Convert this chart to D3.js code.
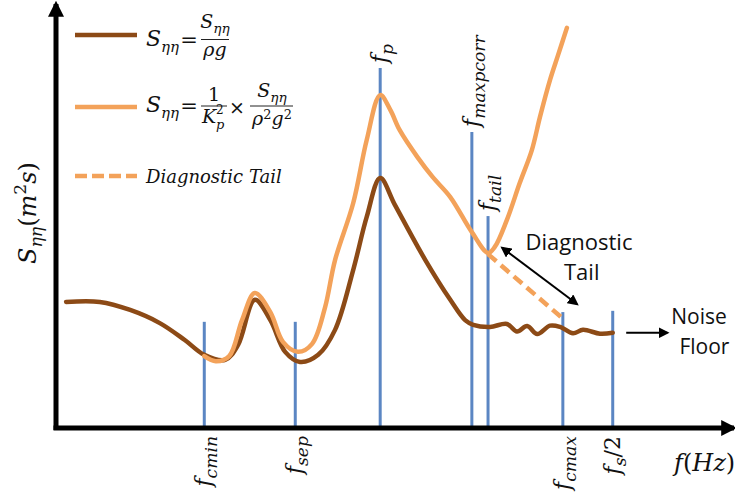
<!DOCTYPE html>
<html>
<head>
<meta charset="utf-8">
<script src="https://cdn.jsdelivr.net/npm/d3@7/dist/d3.min.js"></script>
<style>
  html, body { margin: 0; padding: 0; background: #fff; }
  svg { display: block; }
  .math { font-family: "DejaVu Serif", "Liberation Serif", serif; fill: #111; }
  .sans { font-family: "Open Sans", "Liberation Sans", sans-serif; fill: #111; }
</style>
</head>
<body>
<svg id="chart" width="735" height="501"></svg>
<script>
// ---- data (frequency and spectral level in normalised schematic units, 0-100) ----

// characteristic frequencies: name, position, height of the marker line
const markNames   = ["cmin", "sep", "p", "maxpcorr", "tail", "cmax", "s/2"];
const markFreq    = [22.0, 35.5, 48.1, 61.7, 64.1, 75.2, 82.6];
const markTop     = [25.1, 25.1, 85.1, 70.0, 50.1, 27.4, 27.7];
const markSide    = ["below", "below", "above", "above", "above", "below", "below"];

// pressure-derived spectrum, S = S_pp / (rho g)
const darkFreq = [1.5, 6.5, 11.0, 15.4, 19.1, 22.0, 25.1, 27.0, 29.5, 31.8, 34.0, 36.2, 38.9, 41.4, 44.1, 46.1, 48.1,
                  50.3, 54.8, 58.5, 60.7, 61.9, 64.4, 66.9, 68.4, 69.9, 71.4, 73.3, 74.8, 76.7, 78.2, 80.7, 82.6];
const darkLevel = [29.8, 29.8, 27.9, 24.8, 20.8, 17.3, 16.1, 19.6, 30.3, 25.5, 18.0, 15.6, 17.3, 23.2, 37.4, 49.9, 59.1,
                   52.7, 39.7, 30.3, 25.5, 24.4, 23.9, 24.6, 22.8, 24.1, 22.2, 24.2, 23.9, 22.4, 23.2, 22.3, 22.5];

// pressure-response corrected spectrum, S = S_pp / (Kp^2 rho^2 g^2)
const lightFreq = [22.0, 23.7, 25.7, 27.6, 29.5, 31.8, 33.7, 35.9, 38.0, 39.9, 41.4, 44.1, 46.1, 48.1, 49.6, 51.0,
                   53.6, 55.9, 58.5, 61.7, 64.1, 65.1, 66.9, 68.8, 70.6, 71.8, 73.3, 74.5, 75.8];
const lightLevel = [17.0, 15.8, 17.0, 25.5, 31.9, 27.4, 20.3, 18.0, 19.9, 28.4, 39.7, 53.2, 68.1, 78.7, 75.2, 70.4,
                    64.1, 59.3, 54.6, 46.3, 41.4, 42.8, 49.2, 57.9, 65.7, 73.5, 82.3, 88.2, 94.6];

// fitted diagnostic tail from f_tail to f_cmax
const tailFreq  = [64.1, 75.1];
const tailLevel = [41.1, 26.0];

// annotation arrows: [freq, level] start and end
const tailArrow  = [[66.2, 42.6], [77.3, 29.3]];
const noiseArrow = [[84.6, 22.5], [90.7, 22.5]];

// ---- layout ----
const svg = d3.select("#chart");
const x = d3.scaleLinear().domain([0, 100]).range([56, 730]);
const y = d3.scaleLinear().domain([0, 100]).range([428, 5]);

const DARK = "#8c4a16", LIGHT = "#f3a25a", BLUE = "#5b86c3";

// arrow markers
const defs = svg.append("defs");
function marker(id, size, orient) {
  defs.append("marker").attr("id", id)
    .attr("viewBox", "0 0 10 10").attr("refX", 8).attr("refY", 5)
    .attr("markerWidth", size).attr("markerHeight", size)
    .attr("markerUnits", "userSpaceOnUse").attr("orient", orient)
    .append("path").attr("d", "M0,0 L10,5 L0,10 z").attr("fill", "#000");
}
marker("axisHead", 16, "auto");
marker("annHead", 11, "auto");
marker("annHeadStart", 11, "auto-start-reverse");

// frequency marker lines
const markers = markNames.map((n, i) => ({ name: n, f: markFreq[i], top: markTop[i], side: markSide[i] }));
svg.append("g").selectAll("line").data(markers).join("line")
  .attr("x1", d => x(d.f)).attr("x2", d => x(d.f))
  .attr("y1", y(0)).attr("y2", d => y(d.top))
  .attr("stroke", BLUE).attr("stroke-width", 3);

// spectra
const line = d3.line().x(d => x(d[0])).y(d => y(d[1])).curve(d3.curveCatmullRom.alpha(0.5));
const darkPts  = darkFreq.map((f, i) => [f, darkLevel[i]]);
const lightPts = lightFreq.map((f, i) => [f, lightLevel[i]]);
const tailPts  = tailFreq.map((f, i) => [f, tailLevel[i]]);

svg.append("path").attr("d", d3.line().x(d => x(d[0])).y(d => y(d[1]))(tailPts))
  .attr("fill", "none").attr("stroke", LIGHT).attr("stroke-width", 4.5)
  .attr("stroke-dasharray", "11,6");
svg.append("path").attr("d", line(darkPts))
  .attr("fill", "none").attr("stroke", DARK).attr("stroke-width", 4.5)
  .attr("stroke-linejoin", "round").attr("stroke-linecap", "round");
svg.append("path").attr("d", line(lightPts))
  .attr("fill", "none").attr("stroke", LIGHT).attr("stroke-width", 4.5)
  .attr("stroke-linejoin", "round").attr("stroke-linecap", "round");

// axes
svg.append("line").attr("x1", x(0)).attr("x2", x(0)).attr("y1", y(0) + 2).attr("y2", 4)
  .attr("stroke", "#000").attr("stroke-width", 5).attr("marker-end", "url(#axisHead)");
svg.append("line").attr("x1", x(0) - 2.5).attr("x2", 734).attr("y1", y(0)).attr("y2", y(0))
  .attr("stroke", "#000").attr("stroke-width", 5).attr("marker-end", "url(#axisHead)");

// annotation arrows
svg.append("line")
  .attr("x1", x(tailArrow[0][0])).attr("y1", y(tailArrow[0][1]))
  .attr("x2", x(tailArrow[1][0])).attr("y2", y(tailArrow[1][1]))
  .attr("stroke", "#000").attr("stroke-width", 2)
  .attr("marker-start", "url(#annHeadStart)").attr("marker-end", "url(#annHead)");
svg.append("line")
  .attr("x1", x(noiseArrow[0][0])).attr("y1", y(noiseArrow[0][1]))
  .attr("x2", x(noiseArrow[1][0])).attr("y2", y(noiseArrow[1][1]))
  .attr("stroke", "#000").attr("stroke-width", 2)
  .attr("marker-end", "url(#annHead)");

// ---- math text helper: parts = [{t, up, sub, sup, dx}] ----
function mathText(parent, px, py, parts, size, anchor, transform, ratio, supShift) {
  const r = ratio || 0.68;
  const ss = supShift || 0.42;
  const t = parent.append("text").attr("class", "math")
    .attr("x", px).attr("y", py).attr("font-size", size)
    .attr("text-anchor", anchor || "start");
  if (transform) t.attr("transform", transform);
  let cur = 0;
  parts.forEach(p => {
    const off = p.sub ? size * 0.27 : p.sup ? -size * ss : 0;
    const s = t.append("tspan").text(p.t)
      .attr("dy", off - cur)
      .attr("font-size", (p.sub || p.sup) ? size * r : size)
      .attr("font-style", p.up ? "normal" : "italic");
    if (p.dx) s.attr("dx", p.dx);
    cur = off;
  });
  return t;
}
const S_eta = [{ t: "S" }, { t: "ηη", sub: true }];

// legend
const lg = svg.append("g");
lg.append("line").attr("x1", 75).attr("x2", 137).attr("y1", 35).attr("y2", 35).attr("stroke", DARK).attr("stroke-width", 4.5);
lg.append("line").attr("x1", 75).attr("x2", 137).attr("y1", 107).attr("y2", 107).attr("stroke", LIGHT).attr("stroke-width", 4.5);
lg.append("line").attr("x1", 75).attr("x2", 137).attr("y1", 176).attr("y2", 176).attr("stroke", LIGHT).attr("stroke-width", 4.5)
  .attr("stroke-dasharray", "12,5");

// row 1
mathText(lg, 146, 46, S_eta, 22, "start", null, 0.68);
mathText(lg, 189, 47, [{ t: "=", up: true }], 21, "middle");
mathText(lg, 215, 28, S_eta, 19, "middle", null, 0.72);
lg.append("line").attr("x1", 201).attr("x2", 229).attr("y1", 39.5).attr("y2", 39.5).attr("stroke", "#222").attr("stroke-width", 1);
mathText(lg, 215, 56, [{ t: "ρg" }], 19, "middle");

// row 2
mathText(lg, 146, 112, S_eta, 22, "start", null, 0.68);
mathText(lg, 189, 113, [{ t: "=", up: true }], 21, "middle");
mathText(lg, 214, 101, [{ t: "1", up: true }], 19, "middle");
lg.append("line").attr("x1", 201).attr("x2", 227).attr("y1", 106).attr("y2", 106).attr("stroke", "#222").attr("stroke-width", 1);
// K with stacked sub/superscript (p below, 2 above)
mathText(lg, 202, 123, [{ t: "K" }], 19, "start");
mathText(lg, 216, 128.5, [{ t: "p" }], 13, "start");
mathText(lg, 216, 114, [{ t: "2", up: true }], 12, "start");
mathText(lg, 237, 114, [{ t: "×", up: true }], 19, "middle");
mathText(lg, 272, 97, S_eta, 19, "middle", null, 0.72);
lg.append("line").attr("x1", 250).attr("x2", 293).attr("y1", 106).attr("y2", 106).attr("stroke", "#222").attr("stroke-width", 1);
mathText(lg, 272, 125, [{ t: "ρ" }, { t: "2", sup: true, up: true }, { t: "g" }, { t: "2", sup: true, up: true }], 19, "middle", null, 0.68, 0.34);

// row 3
mathText(lg, 146, 183, [{ t: "Diagnostic Tail" }], 18);

// axis titles
mathText(svg, 674, 471, [{ t: "f" }, { t: "(", up: true }, { t: "Hz" }, { t: ")", up: true }], 24);
mathText(svg, 36, 213, [{ t: "S" }, { t: "ηη", sub: true }, { t: "(", up: true }, { t: "m" }, { t: "2", sup: true, up: true }, { t: "s" }, { t: ")", up: true }],
  24, "middle", "rotate(-90,36,213)", 0.72);

// frequency marker labels (rotated)
markers.forEach(d => {
  const lx = x(d.f) + 7;
  const ly = d.side === "above" ? y(d.top) - 5 : y(0) + 8;
  const parts = d.name === "s/2"
    ? [{ t: "f" }, { t: "s", sub: true }, { t: "/2", up: true }]
    : [{ t: "f" }, { t: d.name, sub: true }];
  mathText(svg, lx, ly, parts, 22, d.side === "above" ? "start" : "end", `rotate(-90,${lx},${ly})`, 0.78);
});

// annotation text
svg.append("text").attr("class", "sans").attr("font-size", 22).attr("text-anchor", "middle")
  .attr("x", x(77.6)).attr("y", y(42.1)).text("Diagnostic");
svg.append("text").attr("class", "sans").attr("font-size", 22).attr("text-anchor", "middle")
  .attr("x", x(78.0)).attr("y", y(35.0)).text("Tail");
svg.append("text").attr("class", "sans").attr("font-size", 21).attr("text-anchor", "middle")
  .attr("x", x(95.4)).attr("y", y(24.6)).text("Noise");
svg.append("text").attr("class", "sans").attr("font-size", 21).attr("text-anchor", "middle")
  .attr("x", x(96.2)).attr("y", y(17.4)).text("Floor");
</script>
</body>
</html>
